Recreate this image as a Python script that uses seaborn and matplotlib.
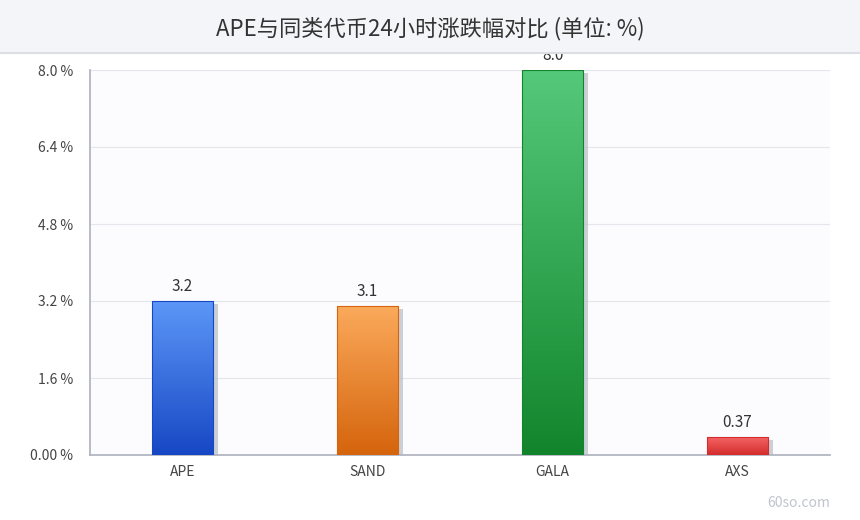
import matplotlib
matplotlib.use("Agg")
import matplotlib.pyplot as plt
import matplotlib.colors as mcolors
import matplotlib.patches as mpatches
import seaborn as sns
import numpy as np
import pandas as pd

coins = ["APE", "SAND", "GALA", "AXS"]
changes = [3.2, 3.1, 8.0, 0.37]
labels = ["3.2", "3.1", "8.0", "0.37"]
top_colors = ["#5c97f7", "#fbaa5c", "#55c97a", "#f46464"]
bottom_colors = ["#1747c4", "#d5640c", "#12852c", "#d42c2c"]
yticks = [0, 1.6, 3.2, 4.8, 6.4, 8.0]
ytick_labels = ["0.00 %", "1.6 %", "3.2 %", "4.8 %", "6.4 %", "8.0 %"]

sns.set_theme(style="white")
plt.rcParams["font.family"] = ["Noto Sans CJK SC", "DejaVu Sans"]

fig = plt.figure(figsize=(8.6, 5.2), dpi=100)
fig.patch.set_facecolor("white")
# header band
fig.patches.append(mpatches.Rectangle((0, 1 - 52 / 520), 1, 52 / 520, transform=fig.transFigure,
                                      facecolor="#f4f5f9", edgecolor="none", zorder=0))
fig.lines.append(plt.Line2D([0, 1], [1 - 53 / 520] * 2, transform=fig.transFigure, color="#dcdee6", lw=1.5))
fig.text(0.5, 1 - 29 / 520, "APE与同类代币24小时涨跌幅对比 (单位: %)", ha="center", va="center",
         fontsize=16, color="#333333")

ax = fig.add_axes([90 / 860, 65 / 520, 740 / 860, 385 / 520])
ax.set_facecolor("#fcfcfe")
df = pd.DataFrame({"coin": coins, "change": changes})
sns.barplot(data=df, x="coin", y="change", ax=ax, width=0.33, color="white", saturation=1,
            edgecolor="none", zorder=3)

for i, p in enumerate(ax.patches):
    x0, y0, w, h = p.get_x(), p.get_y(), p.get_width(), p.get_height()
    # shadow
    ax.add_patch(mpatches.Rectangle((x0 + 0.025, y0 - 0.06), w, h, facecolor="#b8bcc6",
                                    edgecolor="none", alpha=0.7, zorder=2))
    cmap = mcolors.LinearSegmentedColormap.from_list("g", [bottom_colors[i], top_colors[i]])
    grad = np.linspace(0, 1, 256).reshape(-1, 1)
    im = ax.imshow(grad, cmap=cmap, extent=[x0, x0 + w, y0, y0 + h], origin="lower",
                   aspect="auto", zorder=4)
    im.set_clip_path(p)
    ax.add_patch(mpatches.Rectangle((x0, y0), w, h, facecolor="none",
                                    edgecolor=bottom_colors[i], lw=0.8, zorder=5))
    ax.text(x0 + w / 2, y0 + h + 0.12, labels[i], ha="center", va="bottom", fontsize=11,
            color="#333333", zorder=6)

ax.set_xlim(-0.5, 3.5)
ax.set_ylim(0, 8.0)
ax.set_yticks(yticks)
ax.set_yticklabels(ytick_labels, fontsize=10, color="#444444")
ax.tick_params(axis="x", labelsize=10, colors="#444444", length=4, color="#999999")
ax.tick_params(axis="y", length=0, pad=12)
ax.set_xlabel("")
ax.set_ylabel("")
ax.grid(axis="y", color="#e4e6ee", lw=0.8, zorder=0)
for s in ["top", "right"]:
    ax.spines[s].set_visible(False)
ax.spines["left"].set_color("#b0b4c0")
ax.spines["bottom"].set_color("#b0b4c0")

fig.text(0.965, 1 - 503 / 520, "60so.com", ha="right", va="center", fontsize=10, color="#c0c4cc")

fig.savefig("out.png", dpi=100)
